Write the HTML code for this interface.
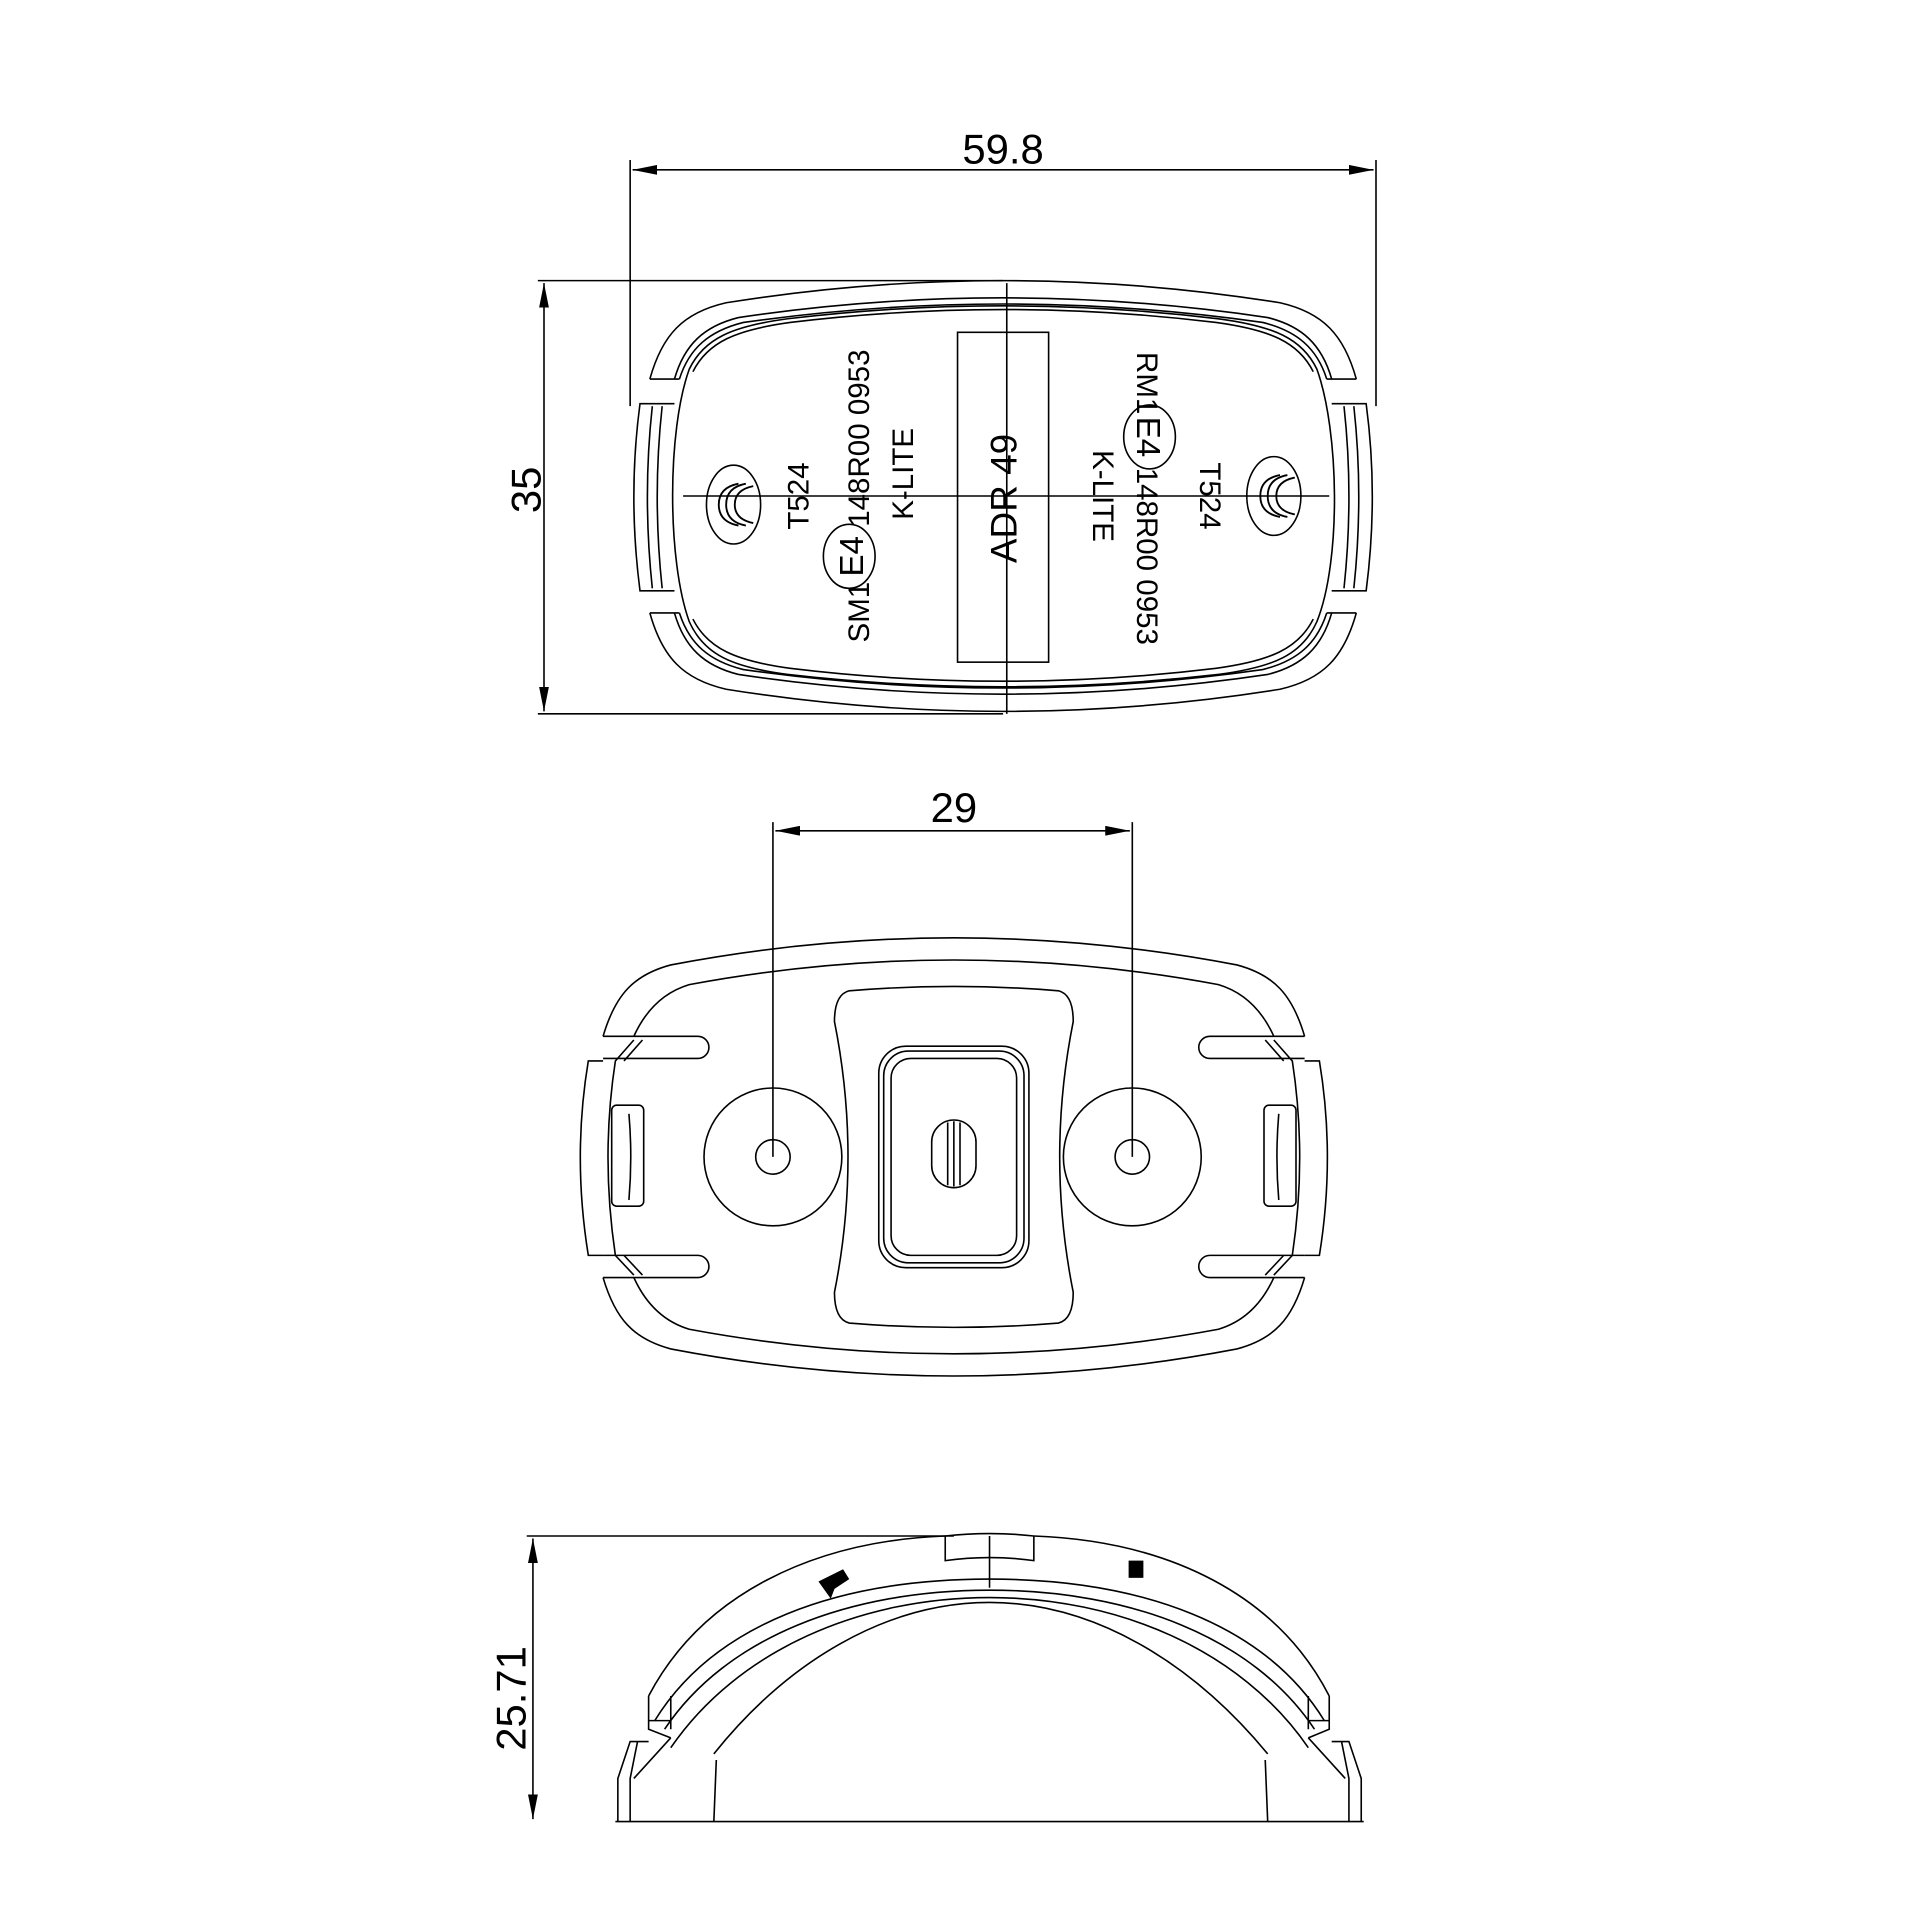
<!DOCTYPE html>
<html><head><meta charset="utf-8"><style>
html,body{margin:0;padding:0;background:#fff;}
svg{display:block;}
text{font-family:"Liberation Sans",sans-serif;fill:#000;}
</style></head><body>
<svg width="1920" height="1920" viewBox="0 0 1560 1560" xmlns="http://www.w3.org/2000/svg">
<defs>
<marker id="ar" viewBox="0 0 20 8" refX="20" refY="4" markerWidth="20" markerHeight="8" orient="auto-start-reverse" markerUnits="userSpaceOnUse"><path d="M0,0 L20,4 L0,8 Z" fill="#000"/></marker>
</defs>
<g fill="none" stroke="#000" stroke-width="1.3">
<!-- ===== TOP VIEW ===== -->
<line x1="512" y1="130" x2="512" y2="330"/>
<line x1="1118" y1="130" x2="1118" y2="330"/>
<line x1="514" y1="138" x2="1116" y2="138" marker-start="url(#ar)" marker-end="url(#ar)"/>
<line x1="437" y1="228" x2="815" y2="228"/>
<line x1="437" y1="580" x2="815" y2="580"/>
<line x1="442" y1="230" x2="442" y2="578" marker-start="url(#ar)" marker-end="url(#ar)"/>
<path d="M528,308 C538,272 555,254 590,246 Q815,210 1040,246 C1075,254 1092,272 1102,308"/>
<path d="M548,308 C556,280 572,265 600,258 Q815,226 1030,258 C1058,265 1074,280 1082,308"/>
<path d="M552,308 C560,283 576,269 604,262 Q815,232 1026,262 C1054,269 1070,283 1078,308"/>
<line x1="528" y1="308" x2="552" y2="308"/><line x1="1078" y1="308" x2="1102" y2="308"/>
<path d="M528,498 C538,534 555,552 590,560 Q815,596 1040,560 C1075,552 1092,534 1102,498"/>
<path d="M548,498 C556,526 572,541 600,548 Q815,580 1030,548 C1058,541 1074,526 1082,498"/>
<path d="M552,498 C560,523 576,537 604,544 Q815,574 1026,544 C1054,537 1070,523 1078,498"/>
<line x1="528" y1="498" x2="552" y2="498"/><line x1="1078" y1="498" x2="1102" y2="498"/>
<path d="M548,328 L520,328 Q510,403 520,480 L548,480"/>
<path d="M530,330 Q522,403 530,478"/><path d="M538,330 Q530,403 538,478"/>
<path d="M1082,328 L1110,328 Q1120,403 1110,480 L1082,480"/>
<path d="M1100,330 Q1108,403 1100,478"/><path d="M1092,330 Q1100,403 1092,478"/>
<path d="M560,300 C572,275 595,265 640,259 Q815,238 990,259 C1035,265 1058,275 1070,300 C1088,350 1090,455 1070,505 C1058,532 1035,542 990,548 Q815,568 640,548 C595,542 572,532 560,505 C542,455 542,350 560,300 Z"/>
<path d="M563,302 C575,278 598,268 642,262 Q815,241 988,262 C1032,268 1055,278 1067,302"/>
<path d="M563,503 C575,527 598,537 642,543 Q815,564 988,543 C1032,537 1055,527 1067,503"/>
<line x1="818" y1="230" x2="818" y2="580"/>
<line x1="555" y1="403" x2="1080" y2="403"/>
<rect x="778" y="270" width="74" height="268"/>
<ellipse cx="596" cy="410" rx="22" ry="32"/>
<ellipse cx="1035" cy="403" rx="22" ry="32"/>
<g stroke-width="1.5">
<path d="M600,393 Q584,396 584,410 Q584,424 600,427"/><path d="M606,393 Q590,396 590,410 Q590,424 606,427"/><path d="M612,395 Q597,398 597,410 Q597,422 612,425"/>
<path d="M1040,386 Q1024,389 1024,403 Q1024,417 1040,420"/><path d="M1046,386 Q1030,389 1030,403 Q1030,417 1046,420"/><path d="M1052,388 Q1037,391 1037,403 Q1037,415 1052,418"/>
</g>
<ellipse cx="690" cy="452" rx="21" ry="26"/>
<ellipse cx="934" cy="355" rx="21" ry="26"/>
</g>
<g font-size="24">
<text transform="translate(657,403) rotate(-90)" text-anchor="middle">T524</text>
<text transform="translate(706,522) rotate(-90)">SM1</text>
<text transform="translate(701,452) rotate(-90)" text-anchor="middle" font-size="27">E4</text>
<text transform="translate(706,428) rotate(-90)">148R00 0953</text>
<text transform="translate(742,385) rotate(-90)" text-anchor="middle">K-LITE</text>
<text transform="translate(924,286) rotate(90)">RM1</text>
<text transform="translate(924,355) rotate(90)" text-anchor="middle" font-size="27">E4</text>
<text transform="translate(924,380) rotate(90)">148R00 0953</text>
<text transform="translate(888,403) rotate(90)" text-anchor="middle">K-LITE</text>
<text transform="translate(975,403) rotate(90)" text-anchor="middle">T524</text>
</g>
<text transform="translate(826,405) rotate(-90)" text-anchor="middle" font-size="30">ADR 49</text>
<text x="815" y="133" text-anchor="middle" font-size="34">59.8</text>
<text transform="translate(439,398) rotate(-90)" text-anchor="middle" font-size="34">35</text>

<!-- ===== MIDDLE VIEW ===== -->
<g fill="none" stroke="#000" stroke-width="1.3">
<line x1="628" y1="668" x2="628" y2="940"/>
<line x1="920" y1="668" x2="920" y2="940"/>
<line x1="630" y1="675" x2="918" y2="675" marker-start="url(#ar)" marker-end="url(#ar)"/>
<path d="M490,842 C500,808 515,792 545,784 Q775,740 1005,784 C1035,792 1050,808 1060,842"/>
<path d="M515,842 C525,820 540,806 560,800 Q775,760 990,800 C1010,806 1025,820 1035,842"/>
<path d="M490,1038 C500,1072 515,1088 545,1096 Q775,1140 1005,1096 C1035,1088 1050,1072 1060,1038"/>
<path d="M515,1038 C525,1060 540,1074 560,1080 Q775,1120 990,1080 C1010,1074 1025,1060 1035,1038"/>
<path d="M490,842 L567,842 A9,9 0 0 1 567,860 L490,860"/>
<path d="M1060,842 L983,842 A9,9 0 0 0 983,860 L1060,860"/>
<path d="M490,1038 L567,1038 A9,9 0 0 0 567,1020 L490,1020"/>
<path d="M1060,1038 L983,1038 A9,9 0 0 1 983,1020 L1060,1020"/>
<path d="M490,862 L478,862 Q465,940 478,1020 L490,1020"/>
<path d="M515,845 L500,862 Q488,940 500,1020 L515,1036"/>
<path d="M522,845 L507,862"/><path d="M522,1036 L507,1020"/>
<path d="M1060,862 L1072,862 Q1085,940 1072,1020 L1060,1020"/>
<path d="M1035,845 L1050,862 Q1062,940 1050,1020 L1035,1036"/>
<path d="M1028,845 L1043,862"/><path d="M1028,1036 L1043,1020"/>
<rect x="497" y="898" width="26" height="82" rx="4"/>
<path d="M511,905 Q514,940 511,975"/>
<rect x="1027" y="898" width="26" height="82" rx="4"/>
<path d="M1039,905 Q1036,940 1039,975"/>
<circle cx="628" cy="940" r="56"/><circle cx="628" cy="940" r="14"/>
<circle cx="920" cy="940" r="56"/><circle cx="920" cy="940" r="14"/>
<path d="M690,805 Q775,798 860,805 Q872,808 872,830 Q850,940 872,1050 Q872,1072 860,1075 Q775,1082 690,1075 Q678,1072 678,1050 Q700,940 678,830 Q678,808 690,805 Z"/>
<rect x="714" y="850" width="122" height="180" rx="22"/>
<rect x="718" y="854" width="114" height="172" rx="20"/>
<rect x="724" y="860" width="102" height="160" rx="16"/>
<rect x="757" y="910" width="36" height="55" rx="18"/>
<line x1="770" y1="912" x2="770" y2="963"/><line x1="775" y1="911" x2="775" y2="964"/><line x1="780" y1="912" x2="780" y2="963"/>
</g>
<text x="775" y="668" text-anchor="middle" font-size="34">29</text>

<!-- ===== BOTTOM VIEW ===== -->
<g fill="none" stroke="#000" stroke-width="1.3">
<line x1="428" y1="1248" x2="775" y2="1248"/>
<line x1="433" y1="1250" x2="433" y2="1478" marker-start="url(#ar)" marker-end="url(#ar)"/>
<line x1="500" y1="1480" x2="1108" y2="1480"/>
<path d="M527,1378 C570,1296 660,1252 768,1248"/>
<path d="M840,1248 C950,1252 1038,1296 1080,1378"/>
<path d="M768,1248 Q804,1244 840,1248"/>
<path d="M768,1248 L768,1268 Q804,1263 840,1268 L840,1248"/>
<line x1="804" y1="1248" x2="804" y2="1290"/>
<path d="M532,1398 C580,1320 680,1283 804,1283 C928,1283 1028,1320 1076,1398"/>
<path d="M540,1405 C590,1330 690,1292 804,1292 C918,1292 1018,1330 1068,1405"/>
<path d="M545,1420 C600,1340 700,1298 804,1298 C908,1298 1008,1340 1063,1420"/>
<path d="M580,1425 C640,1350 720,1302 804,1302 C888,1302 968,1350 1030,1425"/>
<path d="M527,1378 L527,1405 L545,1412"/>
<line x1="527" y1="1398" x2="545" y2="1398"/>
<line x1="545" y1="1378" x2="545" y2="1405"/>
<path d="M527,1415 L512,1415 L502,1445 L502,1480"/>
<path d="M518,1415 L512,1445 L512,1480"/>
<path d="M545,1412 L515,1445"/>
<line x1="582" y1="1430" x2="580" y2="1480"/>
<path d="M1080,1378 L1080,1405 L1063,1412"/>
<line x1="1063" y1="1398" x2="1080" y2="1398"/>
<line x1="1063" y1="1378" x2="1063" y2="1405"/>
<path d="M1082,1415 L1096,1415 L1106,1445 L1106,1480"/>
<path d="M1090,1415 L1096,1445 L1096,1480"/>
<path d="M1063,1412 L1093,1445"/>
<line x1="1028" y1="1430" x2="1030" y2="1480"/>
</g>
<g fill="#000">
<path d="M665,1285 l20,-10 l5,8 l-12,8 l-3,8 z"/>
<rect x="917" y="1268" width="12" height="14"/>
</g>
<text transform="translate(427,1380) rotate(-90)" text-anchor="middle" font-size="34">25.71</text>
</svg>
</body></html>
